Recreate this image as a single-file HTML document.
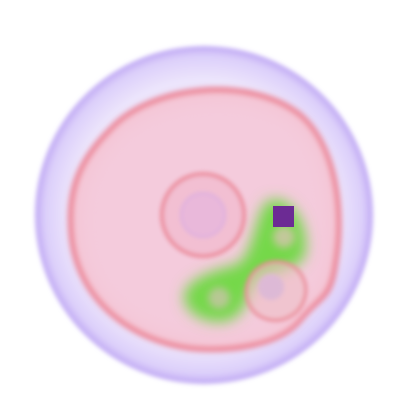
<!DOCTYPE html>
<html><head><meta charset="utf-8"><style>html,body{margin:0;padding:0;background:#fff}svg{display:block}</style></head>
<body>
<svg width="400" height="400" viewBox="0 0 400 400" xmlns="http://www.w3.org/2000/svg">
<defs>
<filter id="b2" x="-20%" y="-20%" width="140%" height="140%"><feGaussianBlur stdDeviation="2"/></filter>
<filter id="b3" x="-20%" y="-20%" width="140%" height="140%"><feGaussianBlur stdDeviation="3"/></filter>
<filter id="b4" x="-30%" y="-30%" width="160%" height="160%"><feGaussianBlur stdDeviation="4"/></filter>
<filter id="b8" x="-50%" y="-50%" width="200%" height="200%"><feGaussianBlur stdDeviation="7"/></filter>
<radialGradient id="outerG" cx="50%" cy="50%" r="50%">
<stop offset="0.8" stop-color="#ece5fc"/><stop offset="0.94" stop-color="#dccffa"/><stop offset="1" stop-color="#bfa8f4"/>
</radialGradient>
</defs>
<g>
<circle cx="204" cy="215" r="169" fill="url(#outerG)" filter="url(#b2)"/>
</g>
<g>
<path d="M110,130 C150,85 250,75 300,115 C335,145 345,210 335,265 C330,300 320,295 300,320 C280,345 230,352 190,348 C130,340 80,300 72,240 C66,190 80,160 110,130 Z" fill="#f4c6d6" stroke="#ec7384" stroke-width="5" filter="url(#b3)"/>
<path d="M118,138 C155,98 248,90 294,124 C325,152 332,210 324,262 C318,292 300,310 285,322 C265,336 230,340 192,337 C135,330 90,295 84,240 C79,195 92,165 118,138 Z" fill="#f4cbdc" filter="url(#b8)"/>
</g>
<g filter="url(#b8)">
<path d="M270,200 C295,195 310,230 305,255 C300,270 270,272 255,285 C245,300 245,320 220,322 C195,322 180,305 185,292 C190,278 215,270 235,265 C255,258 255,205 270,200 Z" fill="#74d84a"/>
</g>
<g><circle cx="284" cy="237" r="11" fill="#c2c89a" filter="url(#b4)"/></g>
<g><circle cx="219" cy="298" r="11" fill="#b8c894" filter="url(#b4)"/></g>
<g>
<circle cx="203" cy="215" r="41" fill="#f2bfd2" stroke="#eb8a9a" stroke-width="4" filter="url(#b2)" opacity="0.95"/>
<circle cx="203" cy="215" r="22" fill="#e9b8da" stroke="#dcaee0" stroke-width="2" filter="url(#b2)"/>
</g>
<g>
<ellipse cx="276" cy="291" rx="30" ry="29" transform="rotate(-30 276 291)" fill="#eebfc6" fill-opacity="0.6" stroke="#ea8a96" stroke-width="3" filter="url(#b2)"/>
<circle cx="271" cy="287" r="13" fill="#ddb9d6" filter="url(#b2)"/>
</g>
<rect x="273" y="206" width="21" height="21" fill="#6c2b94"/>
</svg>
</body></html>
